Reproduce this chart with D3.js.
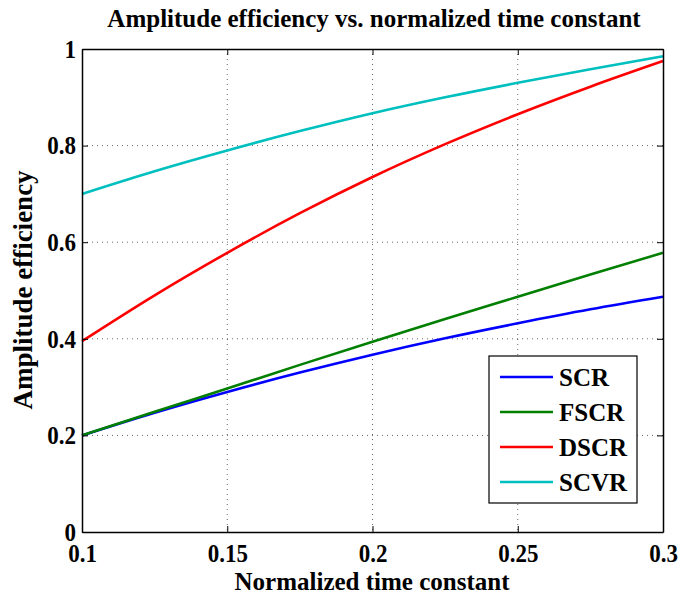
<!DOCTYPE html>
<html><head><meta charset="utf-8">
<script src="https://cdn.jsdelivr.net/npm/d3@7"></script>
<style>body{margin:0;background:#fff}svg{display:block}text{font-family:"Liberation Serif","Times New Roman",serif;font-weight:bold;fill:#000}</style>
</head><body><svg id="c" width="683" height="598"></svg>
<script>
const xs = [0.1,0.125,0.15,0.175,0.2,0.225,0.25,0.275,0.3];
const SCR  = [0.200,0.247,0.290,0.330,0.367,0.401,0.432,0.461,0.487];
const FSCR = [0.200,0.249,0.297,0.346,0.394,0.441,0.487,0.533,0.578];
const DSCR = [0.395,0.490,0.578,0.660,0.735,0.803,0.865,0.922,0.975];
const SCVR = [0.700,0.747,0.790,0.830,0.867,0.900,0.930,0.958,0.985];
const seriesNames = ["SCR","FSCR","DSCR","SCVR"];
const seriesColors = ["#0000ff","#007f00","#ff0000","#00bfbf"];
const xTicks = [0.1,0.15,0.2,0.25,0.3];
const yTicks = [0,0.2,0.4,0.6,0.8,1];
const series = [SCR,FSCR,DSCR,SCVR];

const svg = d3.select("#c");
const L=82,R=663,T=49,B=532;
const FS = "25px";
const x = d3.scaleLinear().domain([0.1,0.3]).range([L,R]);
const y = d3.scaleLinear().domain([0,1]).range([B,T]);
const g = svg.append("g");
// grid
g.selectAll(".gx").data(xTicks.slice(1,-1)).enter().append("line")
 .attr("x1",d=>x(d)).attr("x2",d=>x(d)).attr("y1",T).attr("y2",B)
 .attr("stroke","#000").attr("stroke-width",0.6).attr("stroke-dasharray","1,4");
g.selectAll(".gy").data(yTicks.slice(1,-1)).enter().append("line")
 .attr("y1",d=>y(d)).attr("y2",d=>y(d)).attr("x1",L).attr("x2",R)
 .attr("stroke","#000").attr("stroke-width",0.6).attr("stroke-dasharray","1,4");
// lines
const line = d3.line().x((d,i)=>x(xs[i])).y(d=>y(d)).curve(d3.curveMonotoneX);
series.forEach((s,i)=>{
  g.append("path").datum(s).attr("d",line).attr("fill","none").attr("stroke",seriesColors[i]).attr("stroke-width",2.6);
});
// axes
const fmt = d=>String(d);
const ax = g.append("g").attr("transform",`translate(0,${B})`).call(d3.axisBottom(x).tickValues(xTicks).tickFormat(fmt).tickSizeInner(-6).tickSizeOuter(0).tickPadding(0));
const ay = g.append("g").attr("transform",`translate(${L},0)`).call(d3.axisLeft(y).tickValues(yTicks).tickFormat(fmt).tickSizeInner(-6).tickSizeOuter(0).tickPadding(6));
const axT = g.append("g").attr("transform",`translate(0,${T})`).call(d3.axisTop(x).tickValues(xTicks).tickFormat("").tickSizeInner(-6).tickSizeOuter(0));
const ayR = g.append("g").attr("transform",`translate(${R},0)`).call(d3.axisRight(y).tickValues(yTicks).tickFormat("").tickSizeInner(-6).tickSizeOuter(0));
[ax,ay,axT,ayR].forEach(a=>{a.select(".domain").attr("stroke","#000").attr("stroke-width",1.5);a.selectAll("line").attr("stroke","#000");a.selectAll("text").style("font-size","25px").style("font-family","Liberation Serif").style("font-weight","bold");});
ax.selectAll("text").attr("y",30).attr("dy",null);
ay.selectAll("text").attr("dy","0.33em");
[ax,ay].forEach(a=>a.selectAll("text").each(function(){
  const w=this.getComputedTextLength();
  d3.select(this).attr("textLength",w*0.92).attr("lengthAdjust","spacingAndGlyphs");
}));
// legend
const lg = g.append("g");
lg.append("rect").attr("x",489).attr("y",356).attr("width",148).attr("height",147).attr("fill","#fff").attr("stroke","#000").attr("stroke-width",1.2);
seriesNames.forEach((n,i)=>{
  const yy = 377+i*35;
  lg.append("line").attr("x1",500).attr("x2",553).attr("y1",yy).attr("y2",yy).attr("stroke",seriesColors[i]).attr("stroke-width",2.6);
  lg.append("text").attr("x",559).attr("y",yy+8.5).style("font-size",FS).text(n);
});
// titles
svg.append("text").attr("x",374).attr("y",27).attr("text-anchor","middle").style("font-size",FS).text("Amplitude efficiency vs. normalized time constant");
svg.append("text").attr("x",372).attr("y",590).attr("text-anchor","middle").style("font-size",FS).text("Normalized time constant");
svg.append("text").attr("transform",`translate(32,290) rotate(-90)`).attr("text-anchor","middle").style("font-size","27px").text("Amplitude efficiency");
</script></body></html>
